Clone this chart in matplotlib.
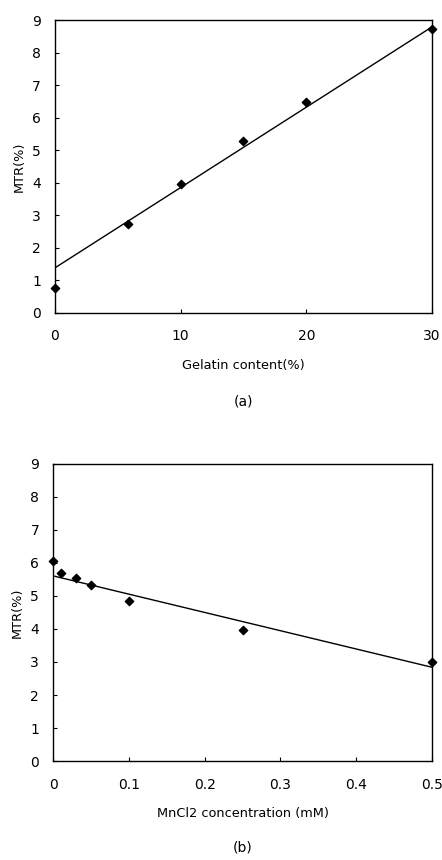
import matplotlib
matplotlib.use('Agg')
import matplotlib.pyplot as plt
import numpy as np

# (a) MTR vs gelatin content
gelatin = [0, 5.8, 10, 15, 20, 30]
mtr_gelatin = [0.75, 2.73, 3.97, 5.28, 6.48, 8.71]
fit_a = (0.247, 1.38)      # slope, intercept of the drawn trend line

# (b) MTR vs MnCl2 concentration
mncl2 = [0, 0.01, 0.03, 0.05, 0.1, 0.25, 0.5]
mtr_mncl2 = [6.07, 5.69, 5.54, 5.33, 4.86, 3.97, 2.99]
fit_b = (-5.54, 5.61)

plt.rcParams['font.family'] = ['DejaVu Sans']

fig = plt.figure(figsize=(4.42, 8.6), dpi=100)
ax1 = fig.add_axes([0.1244, 0.6364, 0.853, 0.3403])
ax2 = fig.add_axes([0.12, 0.1151, 0.8575, 0.3454])


def style(ax, xlim, xticks, xticklabels, xlabel, tag, tag_y):
    ax.set_xlim(*xlim)
    ax.set_ylim(0, 9)
    ax.set_xticks(xticks)
    ax.set_xticklabels(xticklabels, fontsize=10)
    ax.set_yticks(range(0, 10))
    ax.tick_params(axis='y', labelsize=10, pad=10)
    ax.tick_params(axis='x', pad=12)
    ax.tick_params(direction='in', length=3, width=0.8)
    ax.set_ylabel('MTR(%)', fontsize=9.3, labelpad=5)
    ax.set_xlabel(xlabel, fontsize=9.3, labelpad=11)
    for s in ax.spines.values():
        s.set_linewidth(1.0)
    ax.text(0.5, tag_y, tag, transform=ax.transAxes,
            ha='center', va='center', fontsize=10)


# (a)
ax1.scatter(gelatin, mtr_gelatin, marker='D', s=18, color='black', zorder=3, clip_on=False)
xa = np.array([0, 30])
ax1.plot(xa, fit_a[0] * xa + fit_a[1], color='black', linewidth=1.0)
style(ax1, (0, 30), [0, 10, 20, 30], ['0', '10', '20', '30'],
      'Gelatin content(%)', '(a)', -0.303)

# (b)
ax2.scatter(mncl2, mtr_mncl2, marker='D', s=18, color='black', zorder=3, clip_on=False)
xb = np.array([0, 0.5])
ax2.plot(xb, fit_b[0] * xb + fit_b[1], color='black', linewidth=1.0)
style(ax2, (0, 0.5), [0, 0.1, 0.2, 0.3, 0.4, 0.5],
      ['0', '0.1', '0.2', '0.3', '0.4', '0.5'],
      'MnCl2 concentration (mM)', '(b)', -0.29)

fig.savefig('out.png', dpi=100)
